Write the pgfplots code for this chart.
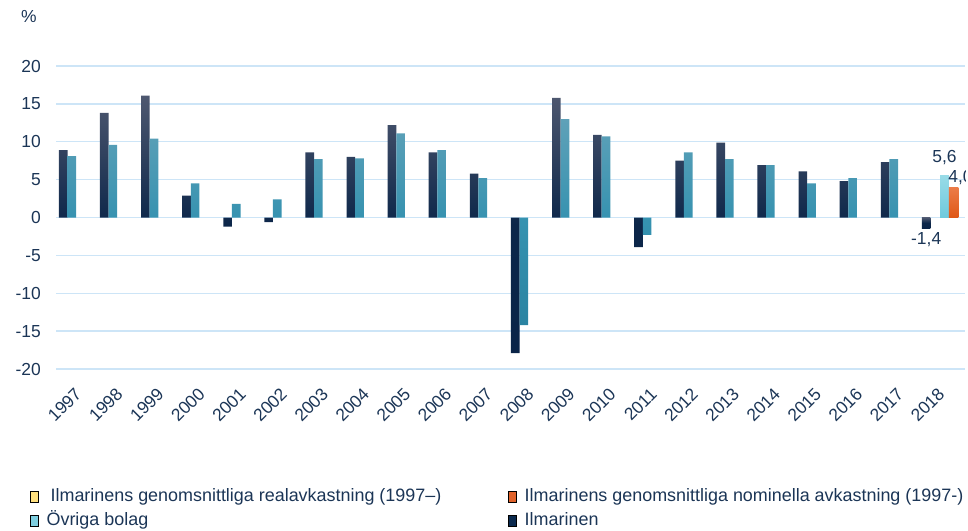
\documentclass[border=0pt]{standalone}
\usepackage{pgfplots}
\pgfplotsset{compat=1.18}
\usepackage{pgfplotstable}
\usepackage{fontspec}
\setmainfont{Liberation Sans}

\definecolor{txt}{HTML}{1B3556}
\definecolor{gridc}{HTML}{CDE5F7}
\definecolor{ilmtop}{HTML}{4E5870}
\definecolor{ilmmid}{HTML}{0C2649}
\definecolor{ilmbot}{HTML}{0A2448}
\definecolor{ovrtop}{HTML}{5FA1B8}
\definecolor{ovrmid}{HTML}{3592B0}
\definecolor{ovrbot}{HTML}{2B84A2}
\definecolor{cyantop}{HTML}{98DBE7}
\definecolor{cyanbot}{HTML}{6FCADD}
\definecolor{orgtop}{HTML}{EC7C48}
\definecolor{orgbot}{HTML}{DF5716}
\definecolor{legyellow}{HTML}{FFE07E}
\definecolor{legorange}{HTML}{E0622A}
\definecolor{legcyan}{HTML}{7FCFE0}
\definecolor{legnavy}{HTML}{0B2A4E}

% x = 0..20 -> 1997..2017
\pgfplotstableread{
x  ilm   ovr
0  8.9   8.1
1  13.8  9.6
2  16.1  10.4
3  2.9   4.5
4  -1.2  1.8
5  -0.6  2.4
6  8.6   7.7
7  8.0   7.8
8  12.2  11.1
9  8.6   8.9
10 5.8   5.2
11 -17.9 -14.2
12 15.8  13.0
13 10.9  10.7
14 -3.9  -2.3
15 7.5   8.6
16 9.9   7.7
17 6.9   6.9
18 6.1   4.5
19 4.8   5.2
20 7.3   7.7
}\data

\newcommand{\lbl}{\fontsize{17.5}{20}\selectfont}
\newcommand{\leg}{\fontsize{18}{21}\selectfont}

\begin{document}
\begin{tikzpicture}
\useasboundingbox (0,0) rectangle (968bp,531bp);
\node[font=\lbl, text=txt, inner sep=0pt] at (29bp,514bp) {\%};
\begin{axis}[
    at={(56bp,162bp)}, anchor=south west,
    scale only axis, width=909bp, height=303bp,
    xmin=-0.28, xmax=21.84, ymin=-20, ymax=20,
    xtick={0,...,21},
    xticklabels={1997,1998,1999,2000,2001,2002,2003,2004,2005,2006,2007,2008,2009,2010,2011,2012,2013,2014,2015,2016,2017,2018},
    ytick={-20,-15,...,20},
    ymajorgrids, grid style={gridc, line width=1.3bp},
    axis line style={draw=none}, major tick length=0pt,
    tick label style={font=\lbl, text=txt, inner sep=0pt},
    yticklabel style={anchor=east, xshift=-15bp},
    xticklabel style={xshift=11bp, yshift=-22bp, rotate=45, anchor=east},
    /pgf/number format/assume math mode=true,
    legend columns=2, legend cell align=left,
    legend image code/.code={\fill[#1] (0bp,-5.5bp) rectangle (8bp,5.5bp);},
    legend style={draw=none, fill=none, inner sep=0pt,
        at={(axis description cs:-0.0286,-0.396)}, anchor=north west,
        font=\leg, text=txt, row sep=8bp,
        nodes={inner sep=0pt, text height=12.5bp, text depth=3.5bp},
        /tikz/every odd column/.append style={column sep=8bp},
        /tikz/every even column/.append style={column sep=67bp}},
]
\addplot[ybar, bar width=0.21, bar shift=-0.105, draw=none,
    top color=ilmtop, bottom color=ilmbot, middle color=ilmmid, forget plot]
    table[x=x, y=ilm] {\data};
\addplot[ybar, bar width=0.21, bar shift=0.105, draw=none,
    top color=ovrtop, bottom color=ovrbot, middle color=ovrmid, forget plot]
    table[x=x, y=ovr] {\data};
% 2018
\addplot[ybar, bar width=0.21, bar shift=-0.105, draw=none,
    top color=ilmtop, bottom color=ilmbot, middle color=ilmmid, forget plot]
    coordinates {(21,-1.4)};
\addplot[ybar, bar width=0.21, bar shift=0.34, draw=none,
    top color=cyantop, bottom color=cyanbot, forget plot]
    coordinates {(21,5.6)};
\addplot[ybar, bar width=0.23, bar shift=0.565, draw=none,
    top color=orgtop, bottom color=orgbot, forget plot]
    coordinates {(21,4.0)};

\addlegendimage{fill=legyellow}
\addlegendentry{\hspace{4bp}Ilmarinens genomsnittliga realavkastning (1997–)}
\addlegendimage{fill=legorange}
\addlegendentry{Ilmarinens genomsnittliga nominella avkastning (1997-)}
\addlegendimage{fill=legcyan}
\addlegendentry{Övriga bolag}
\addlegendimage{fill=legnavy}
\addlegendentry{Ilmarinen}

\node[font=\lbl, text=txt, inner sep=0pt, anchor=south, yshift=10bp] at (axis cs:21.34,5.6) {5,6};
\node[font=\lbl, text=txt, inner sep=0pt, anchor=north, yshift=-4.5bp] at (axis cs:20.895,-1.4) {-1,4};
\node[font=\lbl, text=txt, inner sep=0pt, anchor=south west, yshift=2bp] at (axis cs:21.43,4.0) {4,0};
\end{axis}
\end{tikzpicture}
\end{document}
